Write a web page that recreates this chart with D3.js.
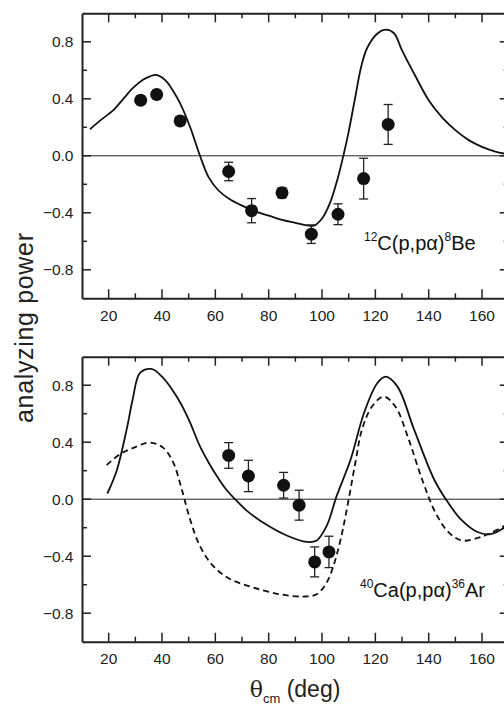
<!DOCTYPE html>
<html>
<head>
<meta charset="utf-8">
<script src="https://cdn.jsdelivr.net/npm/d3@7"></script>
<style>
  body { margin: 0; background: #fff; }
  svg { display: block; font-family: "Liberation Sans", Arial, sans-serif; }
</style>
</head>
<body>
<div id="chart"></div>
<script>
// ---- data ----
// 12C(p,p alpha)8Be : measured points
const cAngle = [32, 38, 46.8, 65, 73.6, 85, 96, 106, 115.6, 124.8];
const cPower = [0.39, 0.43, 0.245, -0.11, -0.385, -0.26, -0.55, -0.41, -0.16, 0.22];
const cError = [0.03, 0.03, 0.03, 0.065, 0.085, 0.035, 0.065, 0.073, 0.143, 0.14];
// 12C calculation (solid)
const cCurve = [[13,0.186],[17,0.25],[21.75,0.32],[25.5,0.4],[29.25,0.478],[33,0.535],[35.5,0.558],
  [37.75,0.568],[40,0.55],[42,0.515],[44,0.46],[46.75,0.37],[50.5,0.204],[54.25,0.0],[57.4,-0.148],
  [61,-0.24],[65,-0.3],[70,-0.35],[75,-0.39],[80,-0.42],[85,-0.45],[90,-0.47],[95,-0.49],[97,-0.49],
  [100,-0.44],[103,-0.33],[106,-0.15],[108,0.0],[110,0.17],[112.25,0.39],[114.75,0.63],[117,0.76],
  [121,0.862],[124,0.885],[127,0.86],[130,0.74],[135,0.56],[140,0.39],[145,0.27],[150,0.18],
  [155,0.11],[160,0.063],[165,0.03],[170,0.01]];

// 40Ca(p,p alpha)36Ar : measured points
const caAngle = [65, 72.4, 85.6, 91.4, 97.25, 102.6];
const caPower = [0.307, 0.163, 0.098, -0.042, -0.44, -0.37];
const caError = [0.09, 0.11, 0.09, 0.105, 0.105, 0.11];
// 40Ca calculations (solid and dashed)
const caSolid = [[19.5,0.04],[23,0.2],[26.75,0.49],[29,0.7],[31.75,0.886],[36,0.914],[40,0.86],
  [45.5,0.72],[50,0.56],[54.25,0.37],[58,0.24],[61,0.15],[64,0.07],[67.4,0.0],[71.75,-0.08],
  [79.25,-0.18],[86.75,-0.255],[94.25,-0.3],[98,-0.29],[101.75,-0.187],[105.5,0.023],
  [110.75,0.28],[115.75,0.605],[120.75,0.815],[123.9,0.86],[128.3,0.79],[134.5,0.49],[142,0.14],
  [146.4,0.0],[152,-0.14],[158.25,-0.23],[163.25,-0.245],[170,-0.18]];
const caDashed = [[19.25,0.24],[24.25,0.315],[29.25,0.36],[35.5,0.397],[40.5,0.36],[44.25,0.256],
  [47.4,0.07],[50.5,-0.14],[54.25,-0.33],[59.25,-0.47],[65.5,-0.56],[74.25,-0.62],[84.25,-0.667],
  [93,-0.683],[98,-0.667],[101.75,-0.585],[104.25,-0.47],[106.75,-0.3],[109,-0.1],[112.5,0.256],
  [115,0.49],[118.75,0.65],[123.1,0.72],[127.5,0.65],[132.5,0.42],[137.5,0.14],[142.5,-0.093],
  [147.5,-0.233],[152.5,-0.29],[158.75,-0.27],[163.75,-0.233],[170,-0.17]];

const xMajor = [20, 40, 60, 80, 100, 120, 140, 160];
const yMajor = [0.8, 0.4, 0.0, -0.4, -0.8];

// ---- layout ----
const width = 504, height = 709;
const svg = d3.select("#chart").append("svg")
  .attr("width", width)
  .attr("height", height);
svg.append("rect").attr("width", width).attr("height", height).attr("fill", "#fff");

const x = d3.scaleLinear().domain([10, 170]).range([82, 508.7]);

const panels = [
  { top: 13.3, bottom: 298.3, label: ["12", "C(p,p\u03b1)", "8", "Be"], lx: 364, ly: 250,
    angle: cAngle, power: cPower, err: cError,
    curves: [{ pts: cCurve, dash: null }] },
  { top: 356.7, bottom: 641.7, label: ["40", "Ca(p,p\u03b1)", "36", "Ar"], lx: 360, ly: 597,
    angle: caAngle, power: caPower, err: caError,
    curves: [{ pts: caSolid, dash: null }, { pts: caDashed, dash: "6,4" }] }
];

panels.forEach(p => {
  const y = d3.scaleLinear().domain([-1, 1]).range([p.bottom, p.top]);
  const g = svg.append("g");
  const x0 = x.range()[0], x1 = x.range()[1];

  // zero line
  g.append("line")
    .attr("x1", x0).attr("x2", x1)
    .attr("y1", y(0)).attr("y2", y(0))
    .attr("stroke", "#222").attr("stroke-width", 1);

  // frame
  const axisG = [];
  axisG.push(g.append("g").attr("transform", `translate(0,${p.bottom})`).call(d3.axisBottom(x).tickValues([]).tickSizeOuter(0)));
  axisG.push(g.append("g").attr("transform", `translate(0,${p.top})`).call(d3.axisTop(x).tickValues([]).tickSizeOuter(0)));
  axisG.push(g.append("g").attr("transform", `translate(${x0},0)`).call(d3.axisLeft(y).tickValues([]).tickSizeOuter(0)));
  axisG.push(g.append("g").attr("transform", `translate(${x1},0)`).call(d3.axisRight(y).tickValues([]).tickSizeOuter(0)));
  axisG.forEach(a => a.select(".domain").attr("stroke", "#222").attr("stroke-width", 2));

  const xTicks = d3.range(20, 171, 10);
  const yTicks = d3.range(-0.8, 0.81, 0.2).map(v => +v.toFixed(1));
  const isMajorX = v => xMajor.includes(v);
  const isMajorY = v => yMajor.some(m => Math.abs(m - v) < 1e-6);

  // inward ticks on all four sides
  xTicks.forEach(v => {
    const len = isMajorX(v) ? 9 : 5;
    g.append("line").attr("x1", x(v)).attr("x2", x(v))
      .attr("y1", p.bottom).attr("y2", p.bottom - len)
      .attr("stroke", "#222").attr("stroke-width", 1.5);
    g.append("line").attr("x1", x(v)).attr("x2", x(v))
      .attr("y1", p.top).attr("y2", p.top + len)
      .attr("stroke", "#222").attr("stroke-width", 1.5);
  });
  yTicks.forEach(v => {
    const len = isMajorY(v) ? 9 : 5;
    g.append("line").attr("x1", x0).attr("x2", x0 + len)
      .attr("y1", y(v)).attr("y2", y(v))
      .attr("stroke", "#222").attr("stroke-width", 1.5);
    g.append("line").attr("x1", x1).attr("x2", x1 - len)
      .attr("y1", y(v)).attr("y2", y(v))
      .attr("stroke", "#222").attr("stroke-width", 1.5);
  });

  // tick labels
  g.selectAll(".xl").data(xMajor).enter().append("text")
    .attr("x", d => x(d)).attr("y", p.bottom + 22.5)
    .attr("text-anchor", "middle").attr("font-size", 15.5).attr("fill", "#222")
    .text(d => d);
  g.selectAll(".yl").data(yMajor).enter().append("text")
    .attr("x", 73.5).attr("y", d => y(d)).attr("dy", "0.36em")
    .attr("text-anchor", "end").attr("font-size", 15.5).attr("fill", "#222")
    .text(d => d3.format(".1f")(d));

  // calculated curves
  const line = d3.line().x(d => x(d[0])).y(d => y(d[1])).curve(d3.curveCatmullRom.alpha(0.5));
  p.curves.forEach(c => {
    g.append("path").datum(c.pts)
      .attr("d", line)
      .attr("fill", "none").attr("stroke", "#111").attr("stroke-width", 1.8)
      .attr("stroke-dasharray", c.dash);
  });

  // data points with error bars
  const pts = p.angle.map((a, i) => ({ a, v: p.power[i], e: p.err[i] }));
  const eb = g.selectAll(".eb").data(pts).enter().append("g");
  eb.append("line")
    .attr("x1", d => x(d.a)).attr("x2", d => x(d.a))
    .attr("y1", d => y(d.v - d.e)).attr("y2", d => y(d.v + d.e))
    .attr("stroke", "#222").attr("stroke-width", 1.3);
  [-1, 1].forEach(s => {
    eb.append("line")
      .attr("x1", d => x(d.a) - 4.5).attr("x2", d => x(d.a) + 4.5)
      .attr("y1", d => y(d.v + s * d.e)).attr("y2", d => y(d.v + s * d.e))
      .attr("stroke", "#222").attr("stroke-width", 1.3);
  });
  eb.append("circle")
    .attr("cx", d => x(d.a)).attr("cy", d => y(d.v)).attr("r", 6.5)
    .attr("fill", "#111");

  // reaction label
  const t = g.append("text").attr("x", p.lx).attr("y", p.ly)
    .attr("font-size", 20).attr("fill", "#111");
  t.append("tspan").attr("font-size", 12).attr("dy", -9).text(p.label[0]);
  t.append("tspan").attr("dy", 9).text(p.label[1]);
  t.append("tspan").attr("font-size", 12).attr("dy", -9).text(p.label[2]);
  t.append("tspan").attr("dy", 9).text(p.label[3]);
});

// axis titles
svg.append("text")
  .attr("transform", "translate(33,328) rotate(-90)")
  .attr("text-anchor", "middle").attr("font-size", 25).attr("fill", "#222")
  .attr("textLength", 190).attr("lengthAdjust", "spacing")
  .text("analyzing power");

const xt = svg.append("text").attr("x", 295).attr("y", 697)
  .attr("text-anchor", "middle").attr("font-size", 23).attr("fill", "#222");
xt.append("tspan").attr("font-family", "DejaVu Serif, serif").attr("font-size", 22).text("\u03b8");
xt.append("tspan").attr("font-size", 13).attr("dy", 6).text("cm");
xt.append("tspan").attr("dy", -6).text(" (deg)");
</script>
</body>
</html>
